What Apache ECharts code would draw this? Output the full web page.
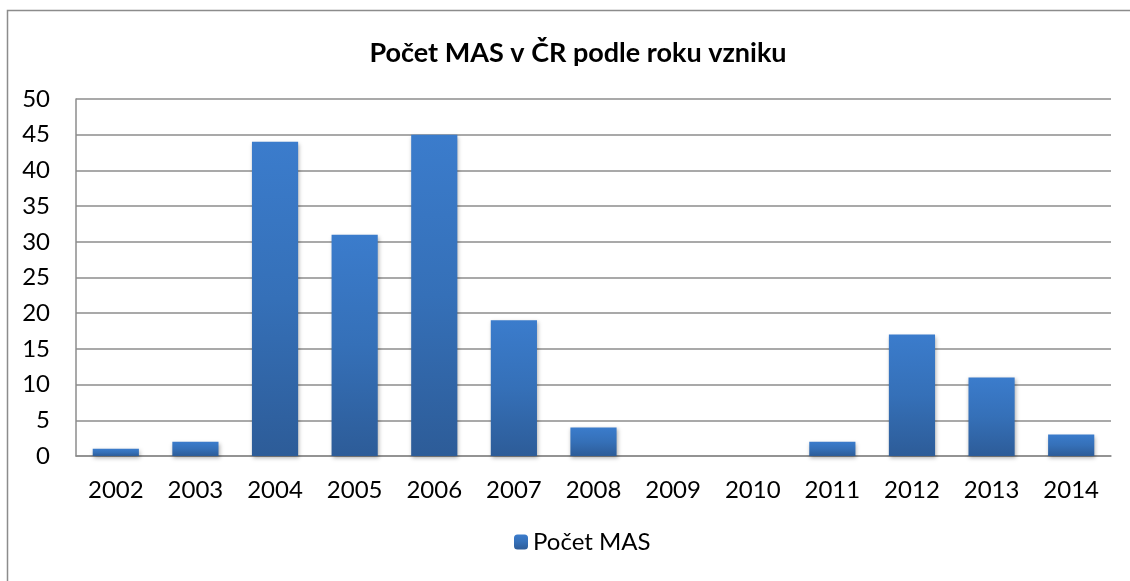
<!DOCTYPE html>
<html>
<head>
<meta charset="utf-8">
<script src="https://cdn.jsdelivr.net/npm/echarts@6/dist/echarts.min.js"></script>
<style>
  html, body { margin: 0; padding: 0; background: #fff; }
  #container { width: 1130px; height: 581px; }
</style>
</head>
<body>
<div id="container"></div>
<script>
// data
var years = ['2002', '2003', '2004', '2005', '2006', '2007', '2008', '2009', '2010', '2011', '2012', '2013', '2014'];
var pocetMas = [1, 2, 44, 31, 45, 19, 4, 0, 0, 2, 17, 11, 3];
var seriesName = 'Počet MAS';
var chartTitle = 'Počet MAS v ČR podle roku vzniku';

var fontName = 'Lato';
var barColor = new echarts.graphic.LinearGradient(0, 0, 0, 1, [
    { offset: 0, color: '#3b7ccc' },
    { offset: 0.5, color: '#3570b8' },
    { offset: 1, color: '#2d5c98' }
]);

var myChart = echarts.init(document.getElementById('container'));
var option = {
    animation: false,
    textStyle: { fontFamily: fontName },
    title: {
        text: chartTitle,
        left: 573,
        textAlign: 'center',
        top: 35,
        textStyle: { fontFamily: fontName, fontWeight: 'bold', fontSize: 27, color: '#000' }
    },
    // ramecek
    graphic: [{
        type: 'rect',
        shape: { x: 7.5, y: 10.5, width: 1300, height: 700 },
        style: { fill: 'none', stroke: '#8c8c8c', lineWidth: 1.5 },
        silent: true
    }],
    legend: {
        data: [seriesName],
        bottom: 22,
        left: 509,
        itemWidth: 14,
        itemHeight: 15,
        itemGap: 6,
        textStyle: { fontFamily: fontName, fontSize: 24, color: '#000' }
    },
    grid: {
        left: 76,
        right: 19,
        top: 99,
        bottom: 125
    },
    xAxis: {
        type: 'category',
        data: years,
        axisLine: { show: true, lineStyle: { color: '#8c8c8c', width: 1.5 } },
        axisTick: { show: false },
        axisLabel: { fontSize: 24, color: '#000', margin: 22 }
    },
    yAxis: {
        type: 'value',
        min: 0,
        max: 50,
        interval: 5,
        axisLine: { show: true, lineStyle: { color: '#8c8c8c', width: 1.5 } },
        axisTick: { show: false },
        axisLabel: { fontSize: 24, color: '#000', margin: 26 },
        splitLine: { show: true, lineStyle: { color: '#8c8c8c', width: 1.5 } }
    },
    series: [{
        name: seriesName,
        type: 'bar',
        data: pocetMas,
        barCategoryGap: '42%',
        itemStyle: {
            color: barColor,
            shadowColor: 'rgba(0,0,0,0.3)',
            shadowBlur: 4,
            shadowOffsetX: 1,
            shadowOffsetY: 2
        }
    }]
};
myChart.setOption(option, true);
</script>
</body>
</html>
